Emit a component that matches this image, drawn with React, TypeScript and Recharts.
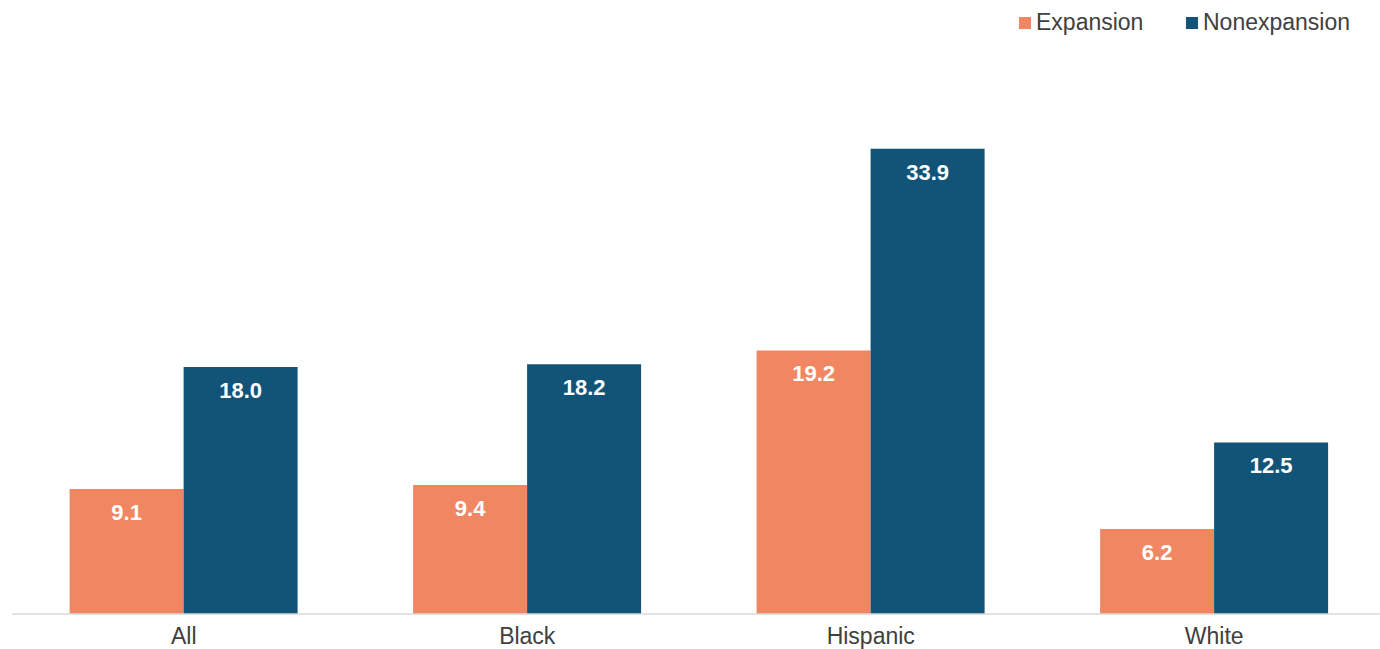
import React from 'react';
import { BarChart, Bar, XAxis, YAxis, LabelList } from 'recharts';

const categories = ['All', 'Black', 'Hispanic', 'White'];
const expansion = [9.1, 9.4, 19.2, 6.2];
const nonexpansion = [18.0, 18.2, 33.9, 12.5];
const seriesNames = ['Expansion', 'Nonexpansion'];
const colors = ['#F08762', '#115478'];

const data = categories.map((c, i) => ({ name: c, exp: expansion[i], non: nonexpansion[i] }));

const FONT = '"Liberation Sans", Arial, sans-serif';

const renderLabel = (props: any) => {
  const { x, y, width, value } = props;
  return (
    <text x={x + width / 2} y={y + 31} textAnchor="middle" fill="#ffffff" fontFamily={FONT} fontWeight="bold" fontSize={22}>
      {Number(value).toFixed(1)}
    </text>
  );
};

export default function App() {
  return (
    <div style={{ position: 'absolute', left: 0, top: 0, width: 1380, height: 649, overflow: 'hidden', background: '#fff' }}>
      <div style={{ position: 'absolute', left: 1019, top: 9, display: 'flex', fontFamily: FONT, fontSize: 23, color: '#404040' }}>
        {seriesNames.map((n, i) => (
          <div key={n} style={{ display: 'flex', alignItems: 'center', position: 'absolute', left: i === 0 ? 0 : 167, whiteSpace: 'nowrap' }}>
            <div style={{ width: 12, height: 12, background: colors[i], marginRight: 5 }} />
            <span>{n}</span>
          </div>
        ))}
      </div>
      <BarChart
        width={1386}
        height={649}
        data={data}
        margin={{ top: 65, right: 0, left: 12, bottom: 0 }}
        barCategoryGap={57.6}
        barGap={0}
      >
        <YAxis hide domain={[0, 40]} />
        <XAxis
          dataKey="name"
          axisLine={{ stroke: '#d9d9d9', strokeWidth: 1.5 }}
          tickLine={false}
          tick={{ fill: '#404040', fontSize: 23, fontFamily: FONT }}
          tickMargin={8}
          height={35}
        />
        <Bar dataKey="exp" fill={colors[0]} isAnimationActive={false}>
          <LabelList dataKey="exp" content={renderLabel} />
        </Bar>
        <Bar dataKey="non" fill={colors[1]} isAnimationActive={false}>
          <LabelList dataKey="non" content={renderLabel} />
        </Bar>
      </BarChart>
    </div>
  );
}
